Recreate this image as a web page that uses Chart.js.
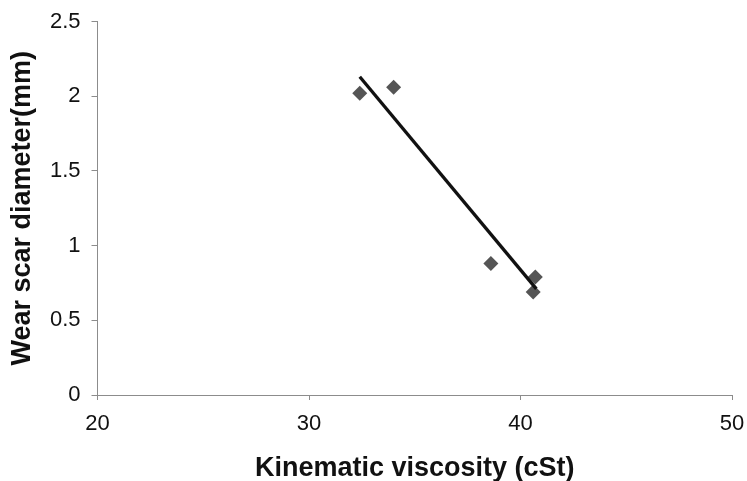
<!DOCTYPE html>
<html>
<head>
<meta charset="utf-8">
<script src="https://cdn.jsdelivr.net/npm/chart.js@4/dist/chart.umd.min.js"></script>
<style>
  html, body { margin: 0; padding: 0; background: #fff; }
  #chart { display: block; }
</style>
</head>
<body>
<canvas id="chart" width="747" height="481"></canvas>
<script>
const viscosity = [32.4, 34.0, 38.6, 40.7, 40.6];
const wearScar = [2.02, 2.06, 0.88, 0.79, 0.69];

// Trend line end points
const trendX = [32.4, 40.75];
const trendY = [2.13, 0.71];

const xTicks = [20, 30, 40, 50];
const yTicks = [0, 0.5, 1, 1.5, 2, 2.5];

const fontFamily = "'Liberation Sans', Arial, sans-serif";
const axisGrey = "#8c8c8c";

const points = viscosity.map((v, i) => ({ x: v, y: wearScar[i] }));
const trend = trendX.map((v, i) => ({ x: v, y: trendY[i] }));

new Chart(document.getElementById("chart").getContext("2d"), {
  type: "scatter",
  data: {
    datasets: [
      {
        label: "Trend",
        type: "line",
        data: trend,
        borderColor: "#111111",
        borderWidth: 3.3,
        pointRadius: 0,
        fill: false,
        order: 1,
      },
      {
        label: "Wear scar",
        data: points,
        pointStyle: "rectRot",
        pointRadius: 7.5,
        backgroundColor: "#555555",
        borderColor: "#555555",
        borderWidth: 0,
        order: 2,
      },
    ],
  },
  options: {
    responsive: false,
    animation: false,
    layout: { padding: { top: 21.5, right: 15, left: 0, bottom: 0 } },
    plugins: { legend: { display: false }, tooltip: { enabled: false } },
    scales: {
      x: {
        type: "linear",
        min: 20,
        max: 50,
        afterBuildTicks: (scale) => {
          scale.ticks = xTicks.map((v) => ({ value: v }));
        },
        afterFit: (scale) => {
          scale.height = 86;
          scale.paddingRight = 0;
          scale.paddingLeft = 0;
        },
        grid: {
          drawOnChartArea: false,
          drawTicks: true,
          tickLength: 5,
          tickColor: axisGrey,
        },
        border: { color: axisGrey, width: 1 },
        ticks: {
          color: "#111",
          padding: 11,
          font: { family: fontFamily, size: 22 },
          callback: (v) => String(v),
        },
        title: {
          display: true,
          text: "Kinematic viscosity (cSt)",
          color: "#111",
          font: { family: fontFamily, size: 27, weight: "bold", lineHeight: 1 },
          padding: { top: 0, bottom: -1 },
        },
      },
      y: {
        type: "linear",
        min: 0,
        max: 2.5,
        afterBuildTicks: (scale) => {
          scale.ticks = yTicks.map((v) => ({ value: v }));
        },
        afterFit: (scale) => {
          scale.width = 97.5;
          scale.paddingTop = 0;
          scale.paddingBottom = 0;
        },
        grid: {
          drawOnChartArea: false,
          drawTicks: true,
          tickLength: 6,
          tickColor: axisGrey,
        },
        border: { color: axisGrey, width: 1 },
        ticks: {
          color: "#111",
          padding: 11,
          font: { family: fontFamily, size: 22 },
          callback: (v) => String(v),
        },
        title: {
          display: true,
          text: "Wear scar diameter(mm)",
          color: "#111",
          font: { family: fontFamily, size: 27, weight: "bold", lineHeight: 1 },
          padding: { top: 9, bottom: 0 },
        },
      },
    },
  },
});
</script>
</body>
</html>
